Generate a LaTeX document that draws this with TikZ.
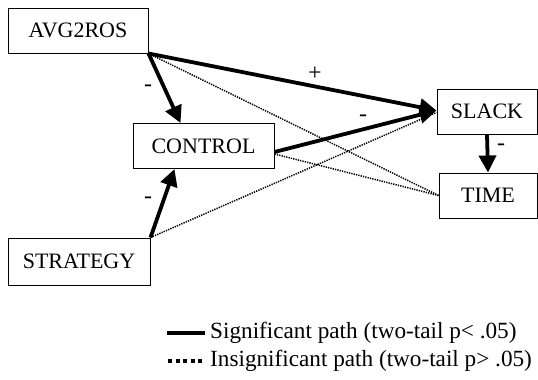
\documentclass[tikz,border=0pt]{standalone}
\usepackage{fontspec}
\setmainfont{Liberation Serif}
\usetikzlibrary{arrows.meta,calc}
\begin{document}
\begin{tikzpicture}[x=1pt,y=-1pt,
  every node/.style={font=\fontsize{22}{26}\selectfont},
  box/.style={draw,line width=1pt,inner sep=0pt,minimum width=#1,minimum height=45pt},
  sig/.style={line width=3.8pt},
  sigarrow/.style={sig,-{Triangle[length=17pt,width=17pt]}},
  insig/.style={line width=1.5pt,dash pattern=on 1.3pt off 1.1pt},
  lbl/.style={inner sep=0pt,font=\fontsize{24}{26}\selectfont},
  legtext/.style={anchor=west,inner sep=0pt,font=\fontsize{23.2}{26}\selectfont}]
\useasboundingbox (0,0) rectangle (538,380);
\node[box=140pt] (avg) at (78,30.5) {AVG2ROS};
\node[box=141pt] (ctl) at (203.5,146) {CONTROL};
\node[box=142pt,minimum height=47pt] (str) at (79,261.5) {STRATEGY};
\node[box=100pt] (slack) at (487,111.5) {SLACK};
\node[box=98pt] (time) at (488,195.5) {TIME};
% insignificant paths
\draw[insig] (avg.south east) -- (time.west);
\draw[insig] ($(ctl.east)+(0,8)$) -- (time.west);
\draw[insig] (str.north east) -- ($(slack.west)+(0,1)$);
% significant paths
\draw[sigarrow] (avg.south east) -- ($(slack.west)+(0,-1)$);
\draw[sigarrow] ($(ctl.east)+(0,6)$) -- ($(slack.west)+(0,-1)$);
\draw[sigarrow] (avg.south east) -- ($(ctl.north west)+(48,0)$);
\draw[sigarrow] (str.north east) -- ($(ctl.south west)+(42,0)$);
\draw[sigarrow] (slack.south) -- (time.north);
% labels
\node[lbl] (l1) at (148,88) {-};
\node[lbl] (l2) at (315,74) {+};
\node[lbl] (l3) at (363,118) {-};
\node[lbl] (l4) at (501,147) {-};
\node[lbl] (l5) at (148,200) {-};
% legend
\coordinate (s1) at (167,333);
\coordinate (s2) at (205,333);
\coordinate (d1) at (168,361);
\coordinate (d2) at (205,361);
\draw[line width=3.2pt] (s1) -- (s2);
\draw[line width=4pt,dash pattern=on 4pt off 3.5pt] (d1) -- (d2);
\node[legtext] (t1) at (210,333) {Significant path (two-tail p< .05)};
\node[legtext] (t2) at (210,361) {Insignificant path (two-tail p> .05)};
\end{tikzpicture}
\end{document}
